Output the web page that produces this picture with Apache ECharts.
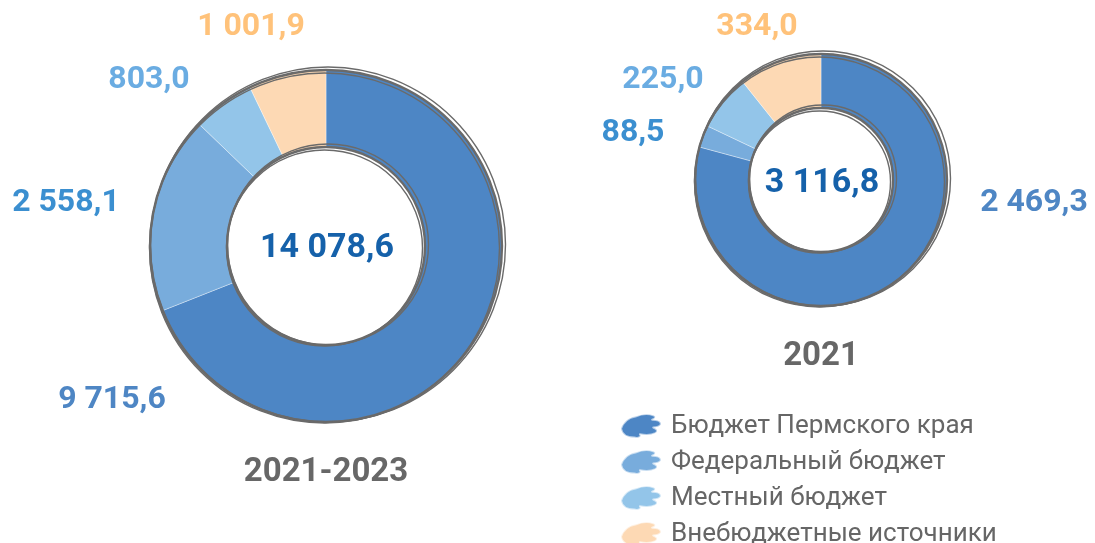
<!DOCTYPE html>
<html>
<head>
<meta charset="utf-8">
<script src="https://cdn.jsdelivr.net/npm/echarts@6/dist/echarts.min.js"></script>
<style>
  html, body { margin: 0; padding: 0; background: #fff; }
  #chart { width: 1095px; height: 543px; }
</style>
</head>
<body>
<div id="chart"></div>
<script>
// Sources of funding, mln rub.
const sources = ['Бюджет Пермского края', 'Федеральный бюджет', 'Местный бюджет', 'Внебюджетные источники'];
const period2021_2023 = [9715.6, 2558.1, 803.0, 1001.9];
const year2021 = [2469.3, 88.5, 225.0, 334.0];
const totals = ['14 078,6', '3 116,8'];
const captions = ['2021-2023', '2021'];

const sliceColors = ['#4d86c5', '#78acdc', '#93c5e9', '#fdd9b4'];
const labelColors = ['#4e86c4', '#3b8fd0', '#6aace2', '#ffc27a'];

// label anchor points (centre of text) for each donut
const labelPosLeft = [[112, 400], [66, 203], [149, 80], [251, 27]];
const labelPosRight = [[1034, 203], [633, 133], [663, 80], [757, 27]];

const FONT = 'Roboto, "DejaVu Sans", sans-serif';

function fmt(v) {
  const parts = v.toFixed(1).split('.');
  const int = parts[0].replace(/\B(?=(\d{3})+(?!\d))/g, ' ');
  return int + ',' + parts[1];
}

function donut(values, center, radius, positions) {
  return {
    type: 'pie',
    center: center,
    radius: radius,
    startAngle: 90,
    clockwise: true,
    avoidLabelOverlap: false,
    silent: true,
    itemStyle: { borderColor: 'rgba(255,255,255,0.6)', borderWidth: 0.6 },
    label: {
      show: true,
      position: 'outside',
      formatter: p => fmt(p.value),
      fontFamily: FONT,
      fontWeight: 'bold',
      fontSize: 32
    },
    labelLine: { show: false },
    labelLayout: p => ({
      x: positions[p.dataIndex][0],
      y: positions[p.dataIndex][1],
      align: 'center',
      verticalAlign: 'middle'
    }),
    data: values.map((v, i) => ({
      name: sources[i],
      value: v,
      itemStyle: { color: sliceColors[i] },
      label: { color: labelColors[i] }
    }))
  };
}

// hand-drawn looking outline: a few slightly shifted strokes
function sketchRings(cx, cy, rOuter, rInner) {
  const out = [];
  const shifts = [[0, 0, 0], [2, -1.5, 1.5], [-1.5, 2, -1]];
  shifts.forEach(([dx, dy, dr], k) => {
    [rOuter, rInner].forEach(r => {
      out.push({
        type: 'circle',
        silent: true,
        z: 10,
        shape: { cx: cx + dx, cy: cy + dy, r: r + dr },
        style: { fill: 'none', stroke: '#6a6a6a', lineWidth: k === 0 ? 2.4 : 1.4 }
      });
    });
  });
  return out;
}

const brush = 'path://M2,15 C4,9 9,5 15,4 C20,2 26,1 31,3 C34,4 33,6 30,7 C34,7 38,8 38,11 C37,13 34,14 31,14 C34,15 36,17 33,19 C29,21 24,21 19,20 C21,22 18,24 14,23 C9,23 3,21 2,15 Z';

const chart = echarts.init(document.getElementById('chart'), null, { renderer: 'canvas' });
chart.setOption({
  animation: false,
  legend: {
    orient: 'vertical',
    left: 620,
    top: 413,
    height: 200,
    padding: 0,
    itemWidth: 40,
    itemHeight: 24,
    itemGap: 10,
    icon: brush,
    data: sources,
    selectedMode: false,
    textStyle: { fontFamily: FONT, fontSize: 26, lineHeight: 24, color: '#666666', padding: [0, 0, 0, 5] }
  },
  series: [
    donut(period2021_2023, [326, 246], [99, 176], labelPosLeft),
    donut(year2021, [821, 180], [72, 126], labelPosRight)
  ],
  graphic: [
    ...sketchRings(326, 246, 176, 99),
    ...sketchRings(821, 180, 126, 72),
    {
      type: 'text', x: 327, y: 248, silent: true,
      style: { text: totals[0], fill: '#1561aa', font: 'bold 34px ' + FONT, textAlign: 'center', textVerticalAlign: 'middle' }
    },
    {
      type: 'text', x: 822, y: 183, silent: true,
      style: { text: totals[1], fill: '#1561aa', font: 'bold 34px ' + FONT, textAlign: 'center', textVerticalAlign: 'middle' }
    },
    {
      type: 'text', x: 326, y: 473, silent: true,
      style: { text: captions[0], fill: '#676767', font: 'bold 33px ' + FONT, textAlign: 'center', textVerticalAlign: 'middle' }
    },
    {
      type: 'text', x: 821, y: 357, silent: true,
      style: { text: captions[1], fill: '#676767', font: 'bold 33px ' + FONT, textAlign: 'center', textVerticalAlign: 'middle' }
    }
  ]
});
</script>
</body>
</html>
